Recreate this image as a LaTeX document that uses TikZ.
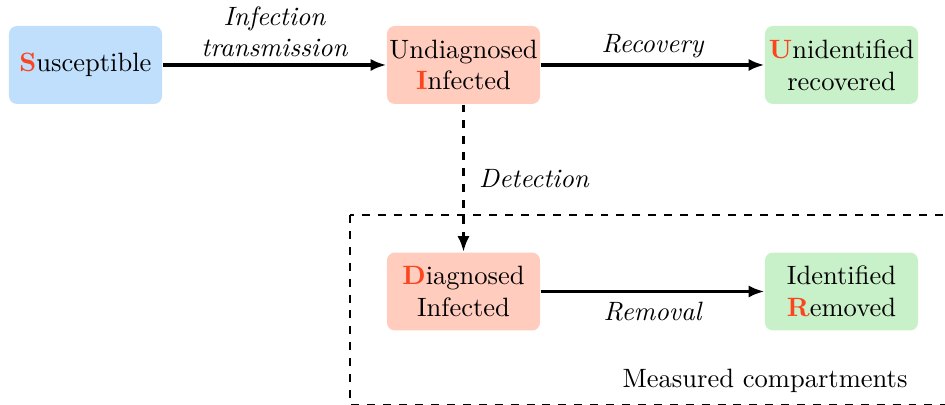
\documentclass[tikz,border=0pt]{standalone}
\usetikzlibrary{arrows.meta}
\definecolor{cblue}{RGB}{191,223,252}
\definecolor{cred}{RGB}{255,204,190}
\definecolor{cgreen}{RGB}{201,241,201}
\definecolor{cletter}{RGB}{250,70,30}
\newcommand{\hl}[1]{\textcolor{cletter}{\textbf{#1}}}
\begin{document}
\begin{tikzpicture}[x=0.377pt,y=-0.377pt,
  comp/.style={rounded corners=3pt, minimum width=57.7pt, minimum height=29.4pt, align=center, inner sep=0pt},
  flow/.style={line width=1.2pt, -{Latex[length=6pt,width=4.6pt]}},
  lbl/.style={font=\itshape, align=center}]
\useasboundingbox (0,0) rectangle (945,405);
\draw[dashed] (350,215) rectangle (990,404.5);
\node[comp, fill=cblue] (S) at (85.5,65) {\hl{S}usceptible};
\node[comp, fill=cred] (I) at (463.5,65) {Undiagnosed\\\hl{I}nfected};
\node[comp, fill=cgreen] (U) at (841.5,65) {\hl{U}nidentified\\recovered};
\node[comp, fill=cred] (D) at (463.5,291.5) {\hl{D}iagnosed\\Infected};
\node[comp, fill=cgreen] (R) at (841.5,291.5) {Identified\\\hl{R}emoved};
\node (M) at (765,381) {Measured compartments};
\draw[flow] (S) -- node[lbl, midway, above=-1pt] {Infection\\transmission} (I);
\draw[flow] (I) -- node[lbl, midway, above=-1.3pt] {Recovery} (U);
\draw[flow, dashed] (I) -- node[lbl, midway, right=2pt] {Detection} (D);
\draw[flow] (D) -- node[lbl, midway, below=-0.1pt] {Removal} (R);
\end{tikzpicture}
\end{document}
